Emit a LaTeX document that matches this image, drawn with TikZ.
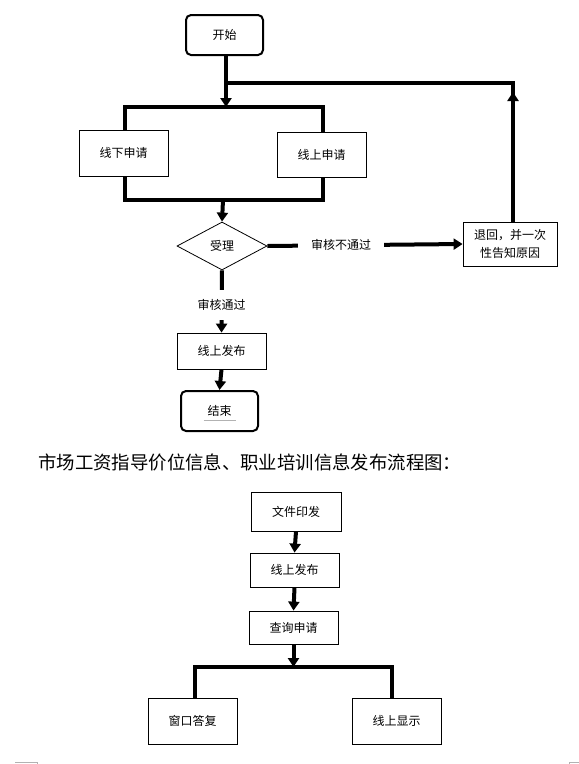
\documentclass[tikz,border=0pt]{standalone}
\usepackage{fontspec}
\newfontfamily\cjk{Noto Sans CJK SC}
\usetikzlibrary{arrows.meta,shapes.geometric}

\begin{document}
\begin{tikzpicture}[x=1pt, y=-1pt,
        box/.style={draw, line width=0.8pt, inner sep=0pt, align=center,
            font=\cjk\fontsize{12}{18}\selectfont},
        endbox/.style={box, line width=2pt, rounded corners=5pt,
            minimum width=77pt, minimum height=40pt},
        conn/.style={line width=4pt},
        tip/.style={-{Triangle[width=11pt,length=9pt]}},
        lbl/.style={fill=white, font=\cjk\fontsize{12}{14}\selectfont}
    ]
        % 1. Page size
        \useasboundingbox (0,0) rectangle (579,764);

        % 2. Upper flow chart nodes
        \node[endbox] (start) at (224.5,35) {开始};
        \node[box, minimum width=89pt, minimum height=46pt] (offline) at (123.5,153) {线下申请};
        \node[box, minimum width=89pt, minimum height=45pt] (online) at (321.5,154.5) {线上申请};
        \node[box, diamond, draw, shape aspect=1.9, minimum width=90pt, minimum height=48pt] (accept) at (222,246) {受理};
        \node[box, minimum width=94pt, minimum height=44pt] (back) at (510,244) {退回，并一次\\性告知原因};
        \node[box, minimum width=89pt, minimum height=36pt] (publish) at (221.5,351) {线上发布};
        \node[endbox] (finish) at (219.5,411) {结束};
        \draw[gray!60, line width=0.6pt] ([xshift=-16pt, yshift=-9pt]finish.center) -- ([xshift=16pt, yshift=-9pt]finish.center);

        % 3. Upper connectors
        \coordinate (loop) at (226,83);
        \coordinate (corner) at (513,83);
        \coordinate (splitL) at (125,107);
        \coordinate (splitR) at (323,107);
        \coordinate (mergeL) at (125,200);
        \coordinate (mergeR) at (323,200);
        \coordinate (merge) at (223,200);
        \draw[conn, tip] (start.south -| loop) -- (loop |- splitL);
        \draw[conn] (splitL |- offline.north) -- (splitL) -- (splitR) -- (splitR |- online.north);
        \draw[conn] (mergeL |- offline.south) -- (mergeL) -- (mergeR) -- (mergeR |- online.south);
        \draw[conn, tip] (merge) -- (accept.north);
        \draw[conn, tip] (accept.east) -- node[lbl, pos=0.378, inner xsep=13pt] {审核不通过} (back.west);
        \draw[conn] (back.north -| corner) -- (corner) -- (loop);
        \draw[conn, tip] (back.north -| corner) -- ([yshift=-9pt]corner);
        \draw[conn, tip] (accept.south) -- node[lbl, pos=0.556, inner ysep=9pt] {审核通过} (publish.north);
        \draw[conn, tip] (publish.south) -- (finish.north);

        % 4. Title of the lower chart
        \node[anchor=west, inner sep=0pt, font=\cjk\fontsize{18.4}{20}\selectfont] (title) at (38,462) {市场工资指导价位信息、职业培训信息发布流程图：};

        % 5. Lower flow chart nodes
        \node[box, minimum width=90pt, minimum height=39pt] (doc) at (296,511.5) {文件印发};
        \node[box, minimum width=89pt, minimum height=34pt] (publish2) at (294.5,570) {线上发布};
        \node[box, minimum width=89pt, minimum height=33pt] (query) at (293.5,627.5) {查询申请};
        \node[box, minimum width=89pt, minimum height=46pt] (window) at (192.5,721) {窗口答复};
        \node[box, minimum width=89pt, minimum height=46pt] (show) at (396.5,721) {线上显示};

        % 6. Lower connectors
        \coordinate (barL) at (195,667);
        \coordinate (barR) at (392,667);
        \draw[conn, tip] (doc.south) -- (publish2.north);
        \draw[conn, tip] (publish2.south) -- (query.north);
        \draw[conn, tip] (query.south) -- (query.south |- barL);
        \draw[conn] (barL |- window.north) -- (barL) -- (barR) -- (barR |- show.north);

        % 7. Page corner marks
        \draw[gray!60, line width=0.8pt] (15,762) -- (37,762) -- (37,764);
        \draw[gray!60, line width=0.8pt] (569,764) -- (569,762) -- (579,762);
    \end{tikzpicture}
\end{document}
